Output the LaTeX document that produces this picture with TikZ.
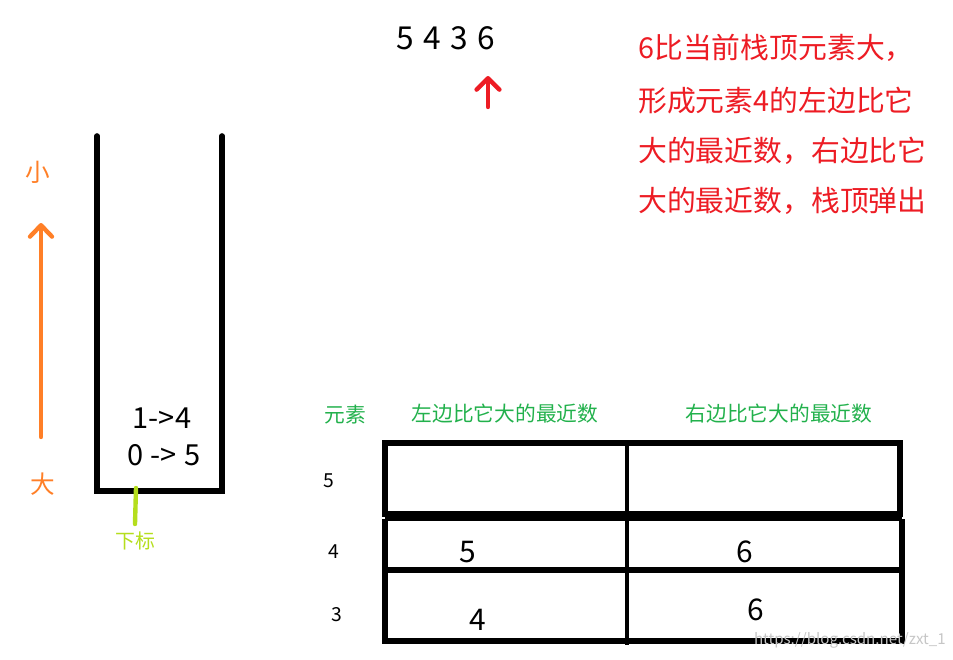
\documentclass[tikz,border=0pt]{standalone}
\usepackage{fontspec}
\setmainfont{Noto Sans CJK SC}
\usetikzlibrary{arrows.meta}
\definecolor{penred}{RGB}{237,28,36}
\definecolor{penorange}{RGB}{255,127,39}
\definecolor{penlime}{RGB}{181,222,29}
\definecolor{headgreen}{RGB}{34,177,76}
\newcommand\seqfont{\fontsize{18}{21}\selectfont\spaceskip 0.3em\relax}
\newcommand\pairfont{\fontsize{16.5}{19}\selectfont\spaceskip 0.26em\relax}

\begin{document}
\begin{tikzpicture}[x=0.02cm,y=-0.02cm,
	wall/.style={line width=3.2pt,line cap=round},
	cell/.style={draw,line width=3.2pt},
	note/.style={text=penred,font=\fontsize{16.4}{20}\selectfont,anchor=west,inner sep=0pt},
	head/.style={text=headgreen,font=\fontsize{11.8}{14}\selectfont,inner sep=0pt},
	idx/.style={font=\fontsize{11}{13}\selectfont,inner sep=0pt},
	val/.style={font=\fontsize{17}{20}\selectfont,inner sep=0pt}]
	\useasboundingbox (0,0) rectangle (953,659);
	% input sequence
	\node [font=\seqfont,inner sep=0pt] (seq) at (446,38) {5 4 3 6};
	\coordinate (redtail) at (488,107);
	\coordinate (redtip) at (488,76);
	\draw [-{Straight Barb[length=6.5pt,width=13pt,round]},penred,line width=2.5pt,line cap=round] (redtail) -- (redtip);
	% explanation
	\node [note] (n1) at (638,48) {6比当前栈顶元素大，};
	\node [note] (n2) at (638,101) {形成元素4的左边比它};
	\node [note] (n3) at (638,151) {大的最近数，右边比它};
	\node [note] (n4) at (638,201) {大的最近数，栈顶弹出};
	% order of the stack
	\node [text=penorange,font=\fontsize{14}{16}\selectfont,inner sep=0pt] (small) at (38,172) {小};
	\node [text=penorange,font=\fontsize{14}{16}\selectfont,inner sep=0pt] (big) at (43,484) {大};
	\coordinate (otail) at (41,437);
	\coordinate (otip) at (41,223);
	\draw [-{Straight Barb[length=6.5pt,width=12.5pt,round]},penorange,line width=2.5pt,line cap=round] (otail) -- (otip);
	% stack
	\draw [wall] (97,136) -- (97,491) -- (222,491) -- (222,136);
	\node [font=\fontsize{16.5}{19}\selectfont,inner sep=0pt] (e1) at (162,418) {1->4};
	\node [font=\pairfont,inner sep=0pt] (e0) at (164,455) {0 -> 5};
	\coordinate (mtop) at (136,488);
	\coordinate (mbot) at (135,524);
	\draw [penlime,line width=2.5pt,line cap=round] (mtop) -- (mbot);
	\node [text=penlime,font=\fontsize{11.3}{13}\selectfont,inner sep=0pt] (sub) at (135,541) {下标};
	% table
	\node [head] (h0) at (345,415) {元素};
	\node [head] (h1) at (505,414) {左边比它大的最近数};
	\node [head] (h2) at (779,414) {右边比它大的最近数};
	\draw [cell] (385,443) rectangle (900,514);
	\draw [cell] (385,570) -- (385,519);
	\draw [line width=1.8pt] (385,519) -- (902,519);
	\draw [cell] (902,519) -- (902,641) -- (385,641) -- (385,570) -- (903,570);
	\draw [line width=2.4pt] (627,443) -- (627,645);
	\node [idx] (r5) at (329,481) {5};
	\node [idx] (r4) at (334,552) {4};
	\node [idx] (r3) at (337,615) {3};
	\node [val] (l4) at (468,552) {5};
	\node [val] (r4v) at (745,552) {6};
	\node [val] (l3) at (478,620) {4};
	\node [val] (r3v) at (756,610) {6};
	% watermark
	\node [text=gray!45,font=\fontsize{8.6}{10}\selectfont,inner sep=0pt,anchor=east] (mark) at (946,640) {https://blog.csdn.net/zxt\_1};
\end{tikzpicture}
\end{document}
